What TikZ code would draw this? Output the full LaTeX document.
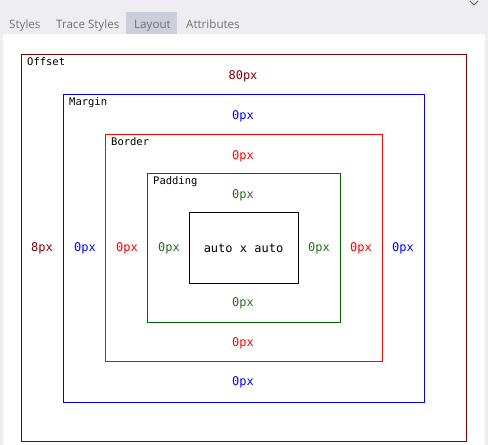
\documentclass[tikz,border=0pt]{standalone}
\usepackage{fontspec}
\setmainfont{Open Sans}
\setmonofont{DejaVu Sans Mono}
\definecolor{bggray}{RGB}{238,238,242}
\definecolor{tabsel}{RGB}{204,206,219}
\definecolor{tabtext}{RGB}{113,113,113}
\definecolor{offc}{RGB}{128,0,0}
\definecolor{marc}{RGB}{0,0,255}
\definecolor{borc}{RGB}{255,0,0}
\definecolor{padc}{RGB}{0,100,0}
\definecolor{padt}{RGB}{40,110,30}
\begin{document}
\begin{tikzpicture}[x=1pt,y=-1pt,
  tab/.style={anchor=base west,inner sep=0pt,font=\fontsize{11.6}{14}\selectfont,text=tabtext},
  boxname/.style={anchor=north west,inner sep=0pt,font=\fontsize{10.5}{12}\ttfamily},
  val/.style={inner sep=0pt,font=\fontsize{12}{14}\ttfamily},
  frame/.style={line width=0.9pt}]
\useasboundingbox (0,0) rectangle (488,445);
\fill[bggray] (0,0) rectangle (488,445);
\fill[white] (3,34) rectangle (485,445);
% tabs
\fill[tabsel] (126,12) rectangle (177,34);
\node[tab] (t1) at (9,28) {Styles};
\node[tab] (t2) at (56,28) {Trace Styles};
\node[tab] (t3) at (134,28) {Layout};
\node[tab] (t4) at (186,28) {Attributes};
\draw[line width=0.8pt,tabtext!80!black] (470,1) -- (474,5) -- (478,1);
% frames
\draw[frame,offc] (21,54) rectangle (466,441);
\draw[frame,marc] (63,94) rectangle (424,402);
\draw[frame,borc] (105,134) rectangle (382,361);
\draw[frame,padc] (147,173) rectangle (340,322);
\draw[frame,black] (189,212) rectangle (298,283);
% names
\node[boxname] (nOff) at (27,57.5) {Offset};
\node[boxname] (nMar) at (69,97.5) {Margin};
\node[boxname] (nBor) at (111,137.5) {Border};
\node[boxname] (nPad) at (153,176.5) {Padding};
% values
\node[val,text=offc] (offT) at (243,76) {80px};
\node[val,text=offc] (offL) at (42,248) {8px};
\node[val,text=marc] (marT) at (243,116) {0px};
\node[val,text=marc] (marL) at (85,248) {0px};
\node[val,text=marc] (marR) at (403,248) {0px};
\node[val,text=marc] (marB) at (243,382) {0px};
\node[val,text=borc] (borT) at (243,156) {0px};
\node[val,text=borc] (borL) at (127,248) {0px};
\node[val,text=borc] (borR) at (361,248) {0px};
\node[val,text=borc] (borB) at (243,343) {0px};
\node[val,text=padt] (padT) at (243,195) {0px};
\node[val,text=padt] (padL) at (169,248) {0px};
\node[val,text=padt] (padR) at (319,248) {0px};
\node[val,text=padt] (padB) at (243,303) {0px};
\node[val,text=black] (content) at (243.5,248) {auto x auto};
\end{tikzpicture}
\end{document}
